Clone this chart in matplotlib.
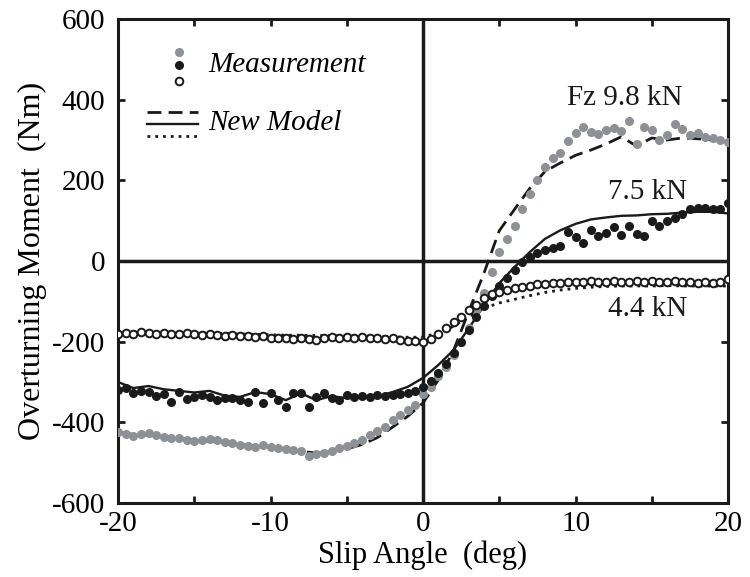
import numpy as np
import matplotlib
matplotlib.use("Agg")
import matplotlib.pyplot as plt

# Slip angle grids (deg)
slip_meas = np.arange(-20, 20.5, 0.5)
slip_model = np.arange(-20, 21, 1)

# Messwerte Fz 4.4 kN (offene Kreise)
meas_44 = [-182, -178, -180, -177, -179, -180, -178, -181, -180, -178,
           -181, -183, -180, -184, -186, -184, -187, -186, -189, -187,
           -190, -192, -190, -194, -191, -193, -195, -190, -189, -191,
           -188, -190, -189, -191, -190, -193, -191, -196, -198, -199,
           -200, -193, -180, -165, -150, -138, -122, -108, -92, -82,
           -76, -72, -67, -64, -61, -58, -56, -55, -54, -52,
           -51, -52, -50, -51, -52, -50, -51, -53, -50, -52,
           -49, -53, -52, -50, -53, -52, -55, -53, -54, -52,
           -45]

# Messwerte Fz 7.5 kN (schwarze Punkte)
meas_75 = [-320, -315, -328, -322, -325, -335, -330, -350, -325, -343,
           -337, -332, -336, -345, -340, -340, -345, -350, -325, -352,
           -328, -345, -362, -328, -328, -362, -337, -328, -340, -345,
           -332, -336, -334, -336, -333, -334, -332, -330, -328, -322,
           -312, -298, -278, -255, -228, -200, -170, -138, -112, -88,
           -62, -42, -22, -2, 10, 20, 28, 32, 36, 72,
           60, 45, 77, 62, 70, 84, 64, 87, 66, 62,
           100, 86, 100, 107, 116, 130, 131, 131, 130, 128,
           144]

# Messwerte Fz 9.8 kN (graue Punkte)
meas_98 = [-424, -430, -434, -428, -426, -432, -436, -438, -439, -443,
           -446, -444, -441, -444, -448, -451, -455, -458, -461, -456,
           -460, -464, -466, -469, -472, -483, -478, -476, -470, -464,
           -458, -451, -445, -432, -422, -411, -395, -383, -370, -357,
           -330, -312, -285, -262, -232, -200, -165, -122, -80, -28,
           22, 55, 88, 130, 165, 200, 232, 256, 268, 298,
           318, 332, 320, 316, 324, 330, 322, 348, 290, 332,
           326, 300, 312, 340, 328, 312, 318, 308, 305, 300,
           296]

# Neues Modell
model_44 = [-176, -176, -177, -177, -178, -178, -179, -180, -181, -182,
            -183, -184, -184, -185, -185, -186, -186, -187, -188, -189,
            -189, -178, -162, -138, -117, -104, -95, -86, -78, -72,
            -68, -65, -63, -62, -62, -62, -61, -62, -62, -62,
            -62]
model_75 = [-300, -315, -310, -318, -322, -326, -322, -334, -337, -325,
            -330, -345, -328, -345, -335, -340, -337, -336, -325, -312,
            -290, -258, -221, -167, -110, -55, -15, 22, 55, 76,
            92, 103, 108, 112, 113, 116, 117, 120, 122, 122,
            118]
model_98 = [-425, -430, -432, -436, -440, -444, -447, -450, -455, -458,
            -461, -466, -472, -476, -472, -466, -455, -438, -412, -385,
            -352, -295, -222, -125, -30, 75, 128, 180, 222, 243,
            262, 275, 290, 308, 285, 305, 300, 305, 303, 300,
            296]

load_labels = ["Fz 9.8 kN", "7.5 kN", "4.4 kN"]
label_pos = [(13.2, 404), (14.7, 171), (14.7, -120)]

plt.rcParams['font.family'] = ['Liberation Serif', 'DejaVu Serif']
plt.rcParams['axes.unicode_minus'] = False

grau = "#8d9195"
schwarz = "#1a1a1a"

fig = plt.figure(figsize=(7.5, 5.77), dpi=100)
ax = fig.add_axes([118 / 750, 74 / 577, 610 / 750, 484 / 577])

# Achsenkreuz bei 0
ax.axhline(0, color=schwarz, lw=2.5, zorder=1)
ax.axvline(0, color=schwarz, lw=2.5, zorder=1)

# Modelllinien
ax.plot(slip_model, model_98, color=schwarz, lw=2.0, dashes=(5, 2.6), zorder=2)
ax.plot(slip_model, model_75, color=schwarz, lw=1.7, zorder=2)
ax.plot(slip_model, model_44, color=schwarz, lw=2.0, dashes=(1, 1.8), zorder=2)

# Messpunkte
ax.plot(slip_meas, meas_98, 'o', ms=5.5, color=grau, mec=grau, zorder=3)
ax.plot(slip_meas, meas_75, 'o', ms=5.5, color=schwarz, mec=schwarz, zorder=3)
ax.plot(slip_meas, meas_44, 'o', ms=5.5, mfc="white", mec=schwarz, mew=1.4, zorder=3)

for txt, (lx, ly) in zip(load_labels, label_pos):
    ax.text(lx, ly, txt, fontsize=21, ha="center", va="center", color=schwarz)

# Legende von Hand
tr = ax.transAxes
ax.plot([0.100], [0.932], 'o', ms=5.5, color=grau, transform=tr)
ax.plot([0.100], [0.905], 'o', ms=5.5, color=schwarz, transform=tr)
ax.plot([0.100], [0.872], 'o', ms=5.5, mfc="white", mec=schwarz, mew=1.4, transform=tr)
ax.plot([0.048, 0.131], [0.808, 0.808], color=schwarz, lw=2.0, dashes=(5, 2.6), transform=tr)
ax.plot([0.048, 0.131], [0.783, 0.783], color=schwarz, lw=1.7, transform=tr)
ax.plot([0.048, 0.131], [0.758, 0.758], color=schwarz, lw=2.0, dashes=(1, 1.8), transform=tr)
ax.text(0.148, 0.905, "Measurement", fontsize=21, style="italic", va="center", transform=tr)
ax.text(0.148, 0.786, "New Model", fontsize=21, style="italic", va="center", transform=tr)

ax.set_xlim(-20, 20)
ax.set_ylim(-600, 600)
ax.set_xticks([-20, -10, 0, 10, 20])
ax.set_yticks(np.arange(-600, 601, 200))
ax.set_xticks([-15, -5, 5, 15], minor=True)
ax.tick_params(which="both", direction="in", top=True, right=True, length=5, width=2,
               labelsize=21, color=schwarz)
ax.tick_params(axis="y", pad=9)
ax.tick_params(axis="x", pad=6)
for s in ax.spines.values():
    s.set_linewidth(2.2)
    s.set_color(schwarz)

ax.set_xlabel("Slip Angle  (deg)", fontsize=22, labelpad=2)
ax.set_ylabel("Overturning Moment  (Nm)", fontsize=23, labelpad=4)

fig.savefig("out.png", dpi=100)
